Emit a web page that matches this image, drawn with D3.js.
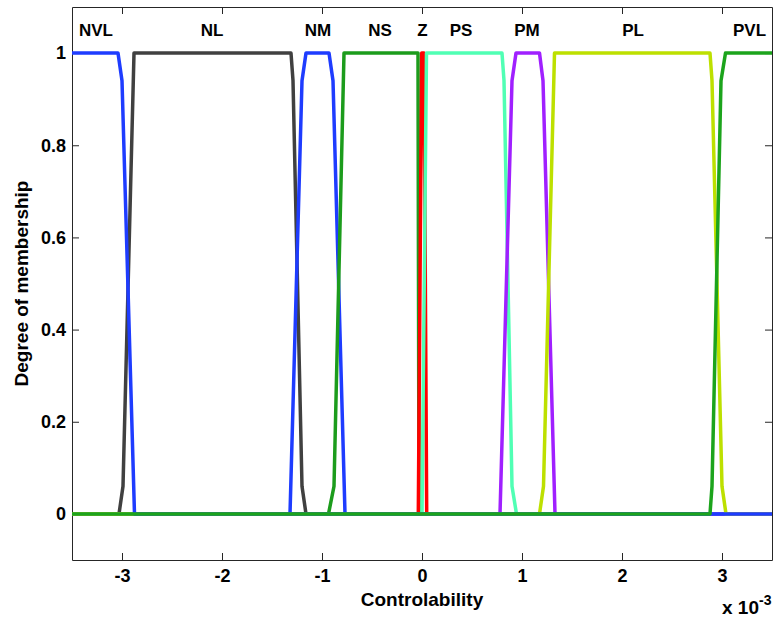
<!DOCTYPE html>
<html>
<head>
<meta charset="utf-8">
<script src="https://cdn.jsdelivr.net/npm/d3@7"></script>
<style>
  body { margin: 0; background: #fff; }
  svg { display: block; font-family: "Liberation Sans", Arial, sans-serif; font-weight: bold; }
</style>
</head>
<body>
<svg id="chart" width="774" height="622"></svg>
<script>
// --- membership functions, x in units of 1e-3 ---
const nvl = [[-3.5, 1], [-3.04, 1], [-3.0, 0.94], [-2.875, 0], [3.5, 0]];
const nl  = [[-3.5, 0], [-3.03, 0], [-2.99, 0.06], [-2.88, 1], [-1.31, 1], [-1.29, 0.94], [-1.2, 0.06], [-1.16, 0], [3.5, 0]];
const nm  = [[-3.5, 0], [-1.32, 0], [-1.2, 0.94], [-1.16, 1], [-0.93, 1], [-0.89, 0.94], [-0.77, 0], [3.5, 0]];
const ns  = [[-3.5, 0], [-0.935, 0], [-0.88, 0.06], [-0.78, 1], [-0.04, 1], [-0.03, 0], [3.5, 0]];
const z   = [[-3.5, 0], [-0.037, 0], [-0.003, 1], [0.02, 1], [0.047, 0], [3.5, 0]];
const ps  = [[-3.5, 0], [0.0, 0], [0.045, 1], [0.8, 1], [0.82, 0.94], [0.9, 0.06], [0.945, 0], [3.5, 0]];
const pm  = [[-3.5, 0], [0.78, 0], [0.9, 0.94], [0.94, 1], [1.175, 1], [1.21, 0.94], [1.33, 0], [3.5, 0]];
const pl  = [[-3.5, 0], [1.175, 0], [1.215, 0.06], [1.325, 1], [2.88, 1], [2.9, 0.94], [3.0, 0.06], [3.04, 0], [3.5, 0]];
const pvl = [[-3.5, 0], [2.88, 0], [2.9, 0.06], [2.99, 0.94], [3.035, 1], [3.5, 1]];

const mfNames = ["NVL", "NL", "NM", "NS", "Z", "PS", "PM", "PL", "PVL"];
const mfData  = [nvl, nl, nm, ns, z, ps, pm, pl, pvl];
const mfColors = ["#1e3cff", "#404040", "#1e3cff", "#1c9c1c", "#ff0000", "#50ffb4", "#a020ff", "#bde000", "#1ca41c"];
// stacking order seen in the picture: NVL sits over the others, PVL on top
const drawOrder = [1, 2, 3, 4, 5, 6, 7, 0, 8];

// label positions (x in 1e-3 units) for the set names above the curves
const labelX = [-3.26, -2.1, -1.04, -0.42, 0.005, 0.39, 1.05, 2.11, 3.275];
const labelY = 1.05;

const xTicks = [-3, -2, -1, 0, 1, 2, 3];
const yTicks = [0, 0.2, 0.4, 0.6, 0.8, 1];
const yTickLabels = ["0", "0.2", "0.4", "0.6", "0.8", "1"];

// --- layout ---
const margin = { left: 72, right: 2, top: 7, bottom: 62 };
const width = 774, height = 622;
const innerW = width - margin.left - margin.right;
const innerH = height - margin.top - margin.bottom;

const svg = d3.select("#chart");
const g = svg.append("g").attr("transform", `translate(${margin.left},${margin.top})`);

const x = d3.scaleLinear().domain([-3.5, 3.5]).range([0, innerW]);
const y = d3.scaleLinear().domain([-0.1, 1.1]).range([innerH, 0]);

// axes (ticks pointing inward, MATLAB style)
const styleAxis = sel => {
    sel.selectAll("path.domain").attr("stroke", "#262626");
    sel.selectAll(".tick line").attr("stroke", "#262626");
    sel.selectAll("text").attr("fill", "#000").style("font-size", "18px").style("font-weight", "bold");
};

g.append("g")
    .attr("transform", `translate(0,${innerH})`)
    .call(d3.axisBottom(x).tickValues(xTicks).tickSizeInner(-7).tickSizeOuter(0).tickPadding(9).tickFormat(d => String(d)))
    .call(styleAxis);

g.append("g")
    .call(d3.axisTop(x).tickValues(xTicks).tickSizeInner(-7).tickSizeOuter(0).tickFormat(""))
    .call(styleAxis);

g.append("g")
    .call(d3.axisLeft(y).tickValues(yTicks).tickSizeInner(-7).tickSizeOuter(0).tickPadding(6).tickFormat((d, i) => yTickLabels[i]))
    .call(styleAxis);

g.append("g")
    .attr("transform", `translate(${innerW},0)`)
    .call(d3.axisRight(y).tickValues(yTicks).tickSizeInner(-7).tickSizeOuter(0).tickFormat(""))
    .call(styleAxis);

// membership curves
const line = d3.line().x(d => x(d[0])).y(d => y(d[1]));

g.selectAll(".mf")
    .data(drawOrder)
    .join("path")
    .attr("class", "mf")
    .attr("d", i => line(mfData[i]))
    .attr("fill", "none")
    .attr("stroke", i => mfColors[i])
    .attr("stroke-width", 3.5)
    .attr("stroke-linejoin", "round");

// set names
g.selectAll(".mf-label")
    .data(mfNames)
    .join("text")
    .attr("class", "mf-label")
    .attr("x", (d, i) => x(labelX[i]))
    .attr("y", y(labelY))
    .attr("dy", "0.35em")
    .attr("text-anchor", "middle")
    .style("font-size", "17px")
    .text(d => d);

// axis titles
svg.append("text")
    .attr("x", margin.left + x(0))
    .attr("y", 606)
    .attr("text-anchor", "middle")
    .style("font-size", "19px")
    .text("Controlability");

svg.append("text")
    .attr("transform", `translate(28,${margin.top + innerH / 2}) rotate(-90)`)
    .attr("text-anchor", "middle")
    .style("font-size", "19px")
    .text("Degree of membership");

// exponent note
const expo = svg.append("text")
    .attr("x", 722)
    .attr("y", 614)
    .style("font-size", "19px");
expo.append("tspan").text("x 10");
expo.append("tspan").attr("dy", -9).style("font-size", "14px").text("-3");
</script>
</body>
</html>
